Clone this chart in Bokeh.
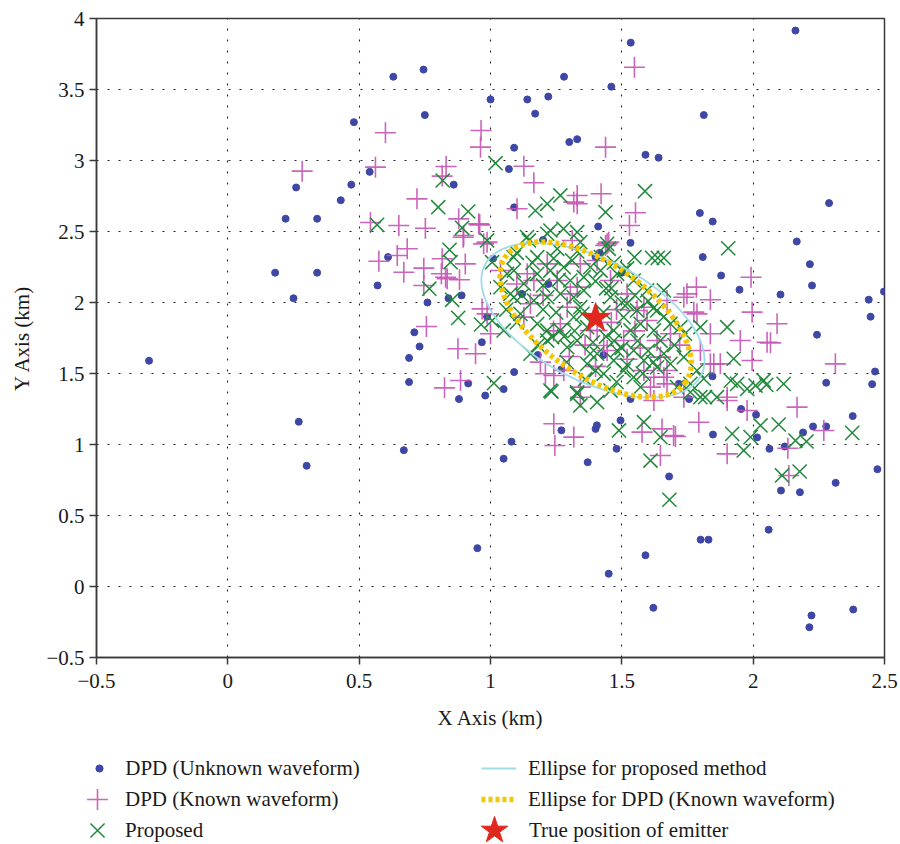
import numpy as np
from bokeh.plotting import figure
from bokeh.models import Range1d, FixedTicker, Legend, LegendItem
from bokeh.embed import file_html
from bokeh.resources import INLINE

# ---------------- data ----------------
unknown_x = [-0.30, 0.18, 0.22, 0.25, 0.26, 0.27, 0.30, 0.34, 0.34, 0.43, 0.47, 0.48, 0.54, 0.57,
             0.61, 0.63, 0.67, 0.69, 0.69, 0.71, 0.73, 0.745, 0.75, 0.76, 0.84, 0.86, 0.88, 0.89,
             0.915, 0.95, 0.967, 0.98, 0.987, 1.00, 1.01, 1.05, 1.05, 1.07, 1.08, 1.09, 1.09, 1.09,
             1.12, 1.14, 1.17, 1.18, 1.20, 1.22, 1.22, 1.27, 1.27, 1.28, 1.30, 1.33, 1.37, 1.40,
             1.405, 1.41, 1.40, 1.416, 1.43, 1.45, 1.46, 1.48, 1.495, 1.50, 1.533, 1.533, 1.534,
             1.59, 1.59, 1.62, 1.64, 1.68, 1.717, 1.756, 1.797, 1.80, 1.808, 1.812, 1.83, 1.845,
             1.846, 1.847, 1.878, 1.948, 1.954, 2.011, 2.015, 2.059, 2.062, 2.104, 2.106, 2.12,
             2.161, 2.166, 2.178, 2.19, 2.214, 2.216, 2.222, 2.224, 2.228, 2.243, 2.278, 2.278,
             2.289, 2.314, 2.379, 2.381, 2.44, 2.447, 2.453, 2.464, 2.473, 2.498]
unknown_y = [1.59, 2.21, 2.59, 2.03, 2.81, 1.16, 0.85, 2.59, 2.21, 2.72, 2.83, 3.27, 2.92, 2.12,
             2.32, 3.59, 0.96, 1.61, 1.44, 1.79, 1.69, 3.64, 3.32, 2.00, 2.03, 2.83, 1.32, 2.05,
             1.43, 0.27, 1.72, 1.345, 1.90, 3.43, 2.31, 1.39, 0.90, 2.94, 1.02, 2.67, 1.51, 3.09,
             2.06, 3.43, 3.33, 1.63, 2.44, 3.45, 2.13, 1.10, 1.53, 3.59, 3.13, 3.15, 0.875, 1.11,
             1.135, 2.535, 2.32, 2.35, 1.63, 0.09, 3.52, 0.97, 1.17, 2.21, 2.42, 1.32, 3.83,
             3.04, 0.22, -0.15, 3.02, 0.775, 1.427, 1.32, 2.63, 0.33, 2.32, 3.32, 0.33, 1.48,
             2.57, 1.07, 2.19, 2.09, 1.25, 1.21, 1.05, 0.40, 0.97, 2.056, 0.676, 0.986,
             3.915, 2.43, 0.664, 1.085, -0.287, 2.27, -0.204, 2.12, 1.127, 1.773, 1.127, 1.435,
             2.70, 0.73, 1.20, -0.162, 2.02, 1.90, 1.425, 1.514, 0.826, 2.077]

known_x = [0.283, 0.562, 0.600, 0.543, 0.651, 0.752, 0.720, 0.831, 0.816, 0.964, 0.962, 0.879,
           0.959, 0.896, 0.683, 0.645, 0.575, 0.746, 0.670, 0.813, 0.904, 0.882, 0.829, 0.816,
           0.746, 0.968, 0.756, 0.974, 0.876, 0.943, 0.886, 0.825, 1.241, 1.245, 1.317, 1.000,
           1.190, 1.241, 1.793, 1.901, 1.647, 1.697, 1.577, 1.951, 1.996, 1.901, 1.837, 2.053,
           2.091, 2.066, 2.313, 2.167, 2.269, 2.132, 2.136, 1.548, 1.438, 1.127, 1.165, 1.330,
           1.421, 1.101, 1.552, 1.529, 1.992, 1.784, 1.736, 1.837, 1.996, 1.774, 1.311, 1.438,
           1.317, 0.898, 0.987, 0.955, 0.835, 1.140, 1.165, 1.216, 1.254, 1.304, 1.292, 1.330,
           1.152, 0.987, 1.279, 1.342, 1.380, 1.266, 1.127, 1.038, 1.342, 1.444, 1.406, 1.457,
           1.520, 1.584, 1.672, 1.748, 1.786, 1.596, 1.634, 1.685, 1.507, 1.444, 1.647, 1.584,
           1.672, 1.672, 1.736, 1.799, 1.406, 1.622, 1.450, 1.558, 1.837, 1.850, 1.660, 1.609,
           1.431, 1.342, 1.622, 1.653, 1.704, 1.977, 1.875, 1.901, 1.209, 1.330, 1.20, 1.10,
           1.48, 1.55, 1.36, 1.30, 1.52, 1.24, 1.46, 1.57, 1.40, 1.72]
known_y = [2.925, 2.953, 3.195, 2.563, 2.542, 2.523, 2.730, 2.958, 2.89, 3.211, 3.094, 2.589,
           2.547, 2.460, 2.378, 2.331, 2.291, 2.242, 2.213, 2.202, 2.272, 2.160, 2.178, 2.308,
           2.120, 1.955, 1.831, 2.413, 1.674, 1.639, 1.451, 1.399, 1.146, 0.993, 1.052, 1.780,
           1.580, 1.486, 1.157, 0.934, 0.923, 1.063, 1.087, 1.732, 1.592, 1.333, 1.568, 1.720,
           1.850, 1.716, 1.568, 1.263, 1.099, 0.974, 0.782, 3.657, 3.094, 2.960, 2.843, 2.754,
           2.766, 2.660, 2.632, 2.542, 2.178, 2.108, 2.037, 2.019, 1.932, 1.932, 2.437, 2.401,
           2.707, 2.472, 2.425, 2.554, 2.167, 2.202, 2.155, 2.272, 2.155, 2.061, 1.967, 2.108,
           1.991, 1.920, 1.521, 1.404, 1.803, 1.850, 1.897, 2.225, 2.272, 2.413, 2.296, 2.155,
           2.061, 1.967, 2.014, 2.061, 1.920, 1.873, 1.732, 1.780, 1.732, 1.662, 1.615, 1.521,
           1.521, 1.427, 1.333, 1.662, 1.803, 1.474, 2.425, 1.944, 1.780, 1.568, 1.474, 1.404,
           1.697, 1.333, 1.310, 1.110, 1.056, 1.239, 1.568, 1.310, 1.498, 2.695, 2.05, 2.13,
           1.95, 1.80, 1.70, 1.62, 1.60, 1.80, 1.86, 1.68, 1.55, 1.70]

proposed_x = [0.818, 0.801, 0.568, 0.915, 0.892, 0.844, 0.848, 0.767, 0.854, 0.877, 0.964, 0.987,
              1.006, 1.019, 1.171, 1.266, 1.216, 1.228, 1.278, 1.139, 1.088, 1.588, 1.438, 1.905,
              1.548, 1.615, 1.637, 1.660, 1.444, 1.450, 1.660, 1.799, 1.901, 1.926, 1.812, 1.862,
              1.939, 1.977, 2.009, 2.040, 2.028, 1.920, 1.990, 1.964, 1.609, 1.584, 1.489, 1.647,
              1.406, 1.342, 1.330, 1.761, 1.817, 1.013, 1.232, 1.681, 2.097, 2.161, 2.203, 2.110,
              2.177, 2.377, 2.116, 2.05, 1.915, 1.799, 1.507, 1.146, 1.216, 1.330, 1.178, 1.254,
              1.311, 1.089, 1.127, 1.076, 1.342, 1.063, 1.178, 1.228, 1.279, 1.304, 1.355, 1.380,
              1.038, 1.089, 1.165, 1.216, 1.266, 1.317, 1.355, 1.006, 1.050, 1.114, 1.178, 1.216,
              1.235, 1.266, 1.317, 1.342, 1.368, 1.152, 1.216, 1.292, 1.330, 1.380, 1.228, 1.330,
              1.368, 1.419, 1.482, 1.545, 1.596, 1.457, 1.520, 1.558, 1.507, 1.571, 1.469, 1.533,
              1.622, 1.685, 1.723, 1.647, 1.482, 1.545, 1.584, 1.469, 1.507, 1.431, 1.545, 1.634,
              1.685, 1.736, 1.786, 1.761, 1.710, 1.571, 1.457, 1.406, 1.634, 1.60, 1.43, 1.47,
              1.39, 1.25, 1.29, 1.44, 1.20,
              1.10, 1.16, 1.24, 1.33, 1.42, 1.47, 1.52, 1.12, 1.20, 1.26, 1.40, 1.46, 1.50, 1.55,
              1.62, 1.66, 1.35, 1.28, 1.32, 1.44, 1.50, 1.56, 1.60, 1.62, 1.52, 1.40, 1.36, 1.48,
              1.58, 1.66, 1.70, 1.74, 1.18, 1.10, 1.06]
proposed_y = [2.859, 2.671, 2.547, 2.641, 2.526, 2.371, 2.284, 2.097, 2.019, 1.892, 1.845, 2.437,
              2.284, 2.981, 2.648, 2.754, 2.695, 2.507, 2.519, 2.461, 2.319, 2.784, 2.636, 2.382,
              2.319, 2.314, 2.314, 2.314, 2.413, 2.378, 2.085, 1.826, 1.826, 1.604, 1.463, 1.333,
              1.427, 1.392, 1.415, 1.451, 1.134, 1.075, 1.052, 0.958, 0.887, 1.157, 1.099, 1.052,
              1.298, 1.275, 1.368, 1.368, 1.333, 1.432, 1.373, 0.611, 1.141, 1.028, 1.021, 0.782,
              0.810, 1.082, 1.427, 1.42, 1.45, 1.333, 2.225, 2.437, 2.484, 2.495, 2.319, 2.378,
              2.296, 2.225, 2.132, 2.061, 2.425, 2.202, 2.202, 2.225, 2.249, 2.155, 2.178, 2.249,
              2.108, 2.037, 2.014, 2.037, 2.061, 2.037, 2.085, 1.873, 1.803, 1.920, 1.850, 1.803,
              1.756, 1.803, 1.897, 1.967, 1.826, 1.639, 1.732, 1.685, 1.732, 1.639, 1.380, 1.357,
              1.568, 2.225, 2.202, 2.155, 2.085, 2.037, 1.991, 1.944, 1.897, 1.850, 1.803, 1.803,
              1.803, 1.850, 1.826, 1.732, 1.662, 1.662, 1.592, 1.592, 1.521, 1.498, 1.474, 1.544,
              1.568, 1.615, 1.521, 1.427, 1.404, 1.404, 1.380, 1.639, 1.944, 2.01, 1.93, 1.73,
              1.72, 1.93, 1.58, 2.10, 1.95,
              2.35, 2.28, 2.31, 2.36, 2.32, 2.28, 2.24, 2.05, 2.12, 2.16, 2.15, 2.10, 2.00, 2.05,
              1.96, 1.90, 1.92, 1.76, 1.80, 1.76, 1.68, 1.73, 1.66, 1.58, 1.56, 1.52, 1.46, 1.44,
              1.50, 1.64, 1.70, 1.78, 1.70, 1.86, 1.95]

true_x = [1.40]
true_y = [1.89]

# ellipse parameters: centre and two conjugate semi-diameters (data units)
proposed_ellipse = {"center": (1.39, 1.875), "u": (0.38, -0.46), "v": (0.19, 0.29)}
dpd_ellipse = {"center": (1.40, 1.88), "u": (0.34, -0.45), "v": (0.13, 0.31)}

x_ticks = [-0.5, 0, 0.5, 1, 1.5, 2, 2.5]
x_tick_labels = ["\u22120.5", "0", "0.5", "1", "1.5", "2", "2.5"]
y_ticks = [-0.5, 0, 0.5, 1, 1.5, 2, 2.5, 3, 3.5, 4]
y_tick_labels = ["\u22120.5", "0", "0.5", "1", "1.5", "2", "2.5", "3", "3.5", "4"]

labels = ["DPD (Unknown waveform)", "DPD (Known waveform)", "Proposed",
          "Ellipse for proposed method", "Ellipse for DPD (Known waveform)",
          "True position of emitter"]

# ---------------- styles ----------------
FONT = "Liberation Serif"
FS = "21px"
BLUE = "#3f47a6"
MAGENTA = "#c653b5"
GREEN = "#1f8a3a"
CYAN = "#9fdbe9"
YELLOW = "#f7c600"
RED = "#e0281e"

MAIN_H = 735
FRAME_LEFT = 96

# ---------------- main figure ----------------
p = figure(width=900, height=MAIN_H, output_backend="svg", toolbar_location=None,
           x_range=Range1d(-0.5, 2.5), y_range=Range1d(-0.5, 4),
           min_border_left=FRAME_LEFT, min_border_right=16, min_border_top=18,
           min_border_bottom=MAIN_H - 657)
p.background_fill_color = "white"
p.border_fill_color = "white"
p.outline_line_color = "#3a3a3a"
p.outline_line_width = 1.5

for ax, ticks, labs in ((p.xaxis[0], x_ticks, x_tick_labels), (p.yaxis[0], y_ticks, y_tick_labels)):
    ax.ticker = FixedTicker(ticks=ticks)
    ax.major_label_overrides = {t: l for t, l in zip(ticks, labs)}
    ax.minor_tick_line_color = None
    ax.major_tick_out = 7
    ax.major_tick_in = 0
    ax.axis_line_color = "#3a3a3a"
    ax.axis_line_width = 1.5
    ax.major_tick_line_color = "#3a3a3a"
    ax.major_tick_line_width = 1.5
    ax.major_label_text_font = FONT
    ax.major_label_text_font_size = FS
    ax.major_label_text_color = "#1a1a1a"
    ax.axis_label_text_font = FONT
    ax.axis_label_text_font_size = FS
    ax.axis_label_text_font_style = "normal"
    ax.axis_label_text_color = "#1a1a1a"

p.xaxis.axis_label = "X Axis (km)"
p.yaxis.axis_label = "Y Axis (km)"
p.xaxis.major_label_standoff = 9
p.xaxis.axis_label_standoff = 15
p.yaxis.major_label_standoff = 5
p.yaxis.axis_label_standoff = 9

for g in (p.xgrid[0], p.ygrid[0]):
    g.grid_line_color = "#222222"
    g.grid_line_dash = "2 9"
    g.grid_line_width = 1.1

style_unknown = dict(marker="circle", size=7, fill_color=BLUE, line_color=BLUE)
style_known = dict(marker="cross", size=21, line_color=MAGENTA, line_width=1.6, line_alpha=0.9)
style_prop = dict(marker="x", size=20, line_color=GREEN, line_width=1.5)
style_ell1 = dict(line_color=CYAN, line_width=1.8)
style_ell2 = dict(line_color=YELLOW, line_width=5.5, line_dash="4 3")
style_star = dict(marker="star", size=31, fill_color=RED, line_color=RED)

p.scatter(unknown_x, unknown_y, **style_unknown)
p.scatter(known_x, known_y, **style_known)
p.scatter(proposed_x, proposed_y, **style_prop)

t = np.linspace(0, 2 * np.pi, 241)


def ellipse_xy(e):
    cx, cy = e["center"]
    ux, uy = e["u"]
    vx, vy = e["v"]
    return cx + ux * np.cos(t) + vx * np.sin(t), cy + uy * np.cos(t) + vy * np.sin(t)


ex1, ey1 = ellipse_xy(proposed_ellipse)
ex2, ey2 = ellipse_xy(dpd_ellipse)
p.line(ex1, ey1, **style_ell1)
p.line(ex2, ey2, **style_ell2)
p.scatter(true_x, true_y, **style_star)

# ---------------- legend strip below the plot (separate root, frame = whole strip) ----------------
LEG_H = 844 - MAIN_H
lf = figure(width=900, height=LEG_H, output_backend="svg", toolbar_location=None,
            x_range=Range1d(-0.5, 2.5), y_range=Range1d(-0.5, 4),
            x_axis_type=None, y_axis_type=None, min_border=0)
lf.outline_line_color = None
lf.grid.visible = False
lf.background_fill_color = "white"
lf.border_fill_color = "white"

# hidden copies of the series, only used to draw the legend glyphs
g_unknown = lf.scatter(unknown_x, unknown_y, visible=False, **style_unknown)
g_known = lf.scatter(known_x, known_y, visible=False, **style_known)
g_prop = lf.scatter(proposed_x, proposed_y, visible=False, **style_prop)
g_ell1 = lf.line(ex1, ey1, visible=False, **style_ell1)
g_ell2 = lf.line(ex2, ey2, visible=False, **style_ell2)
g_star = lf.scatter(true_x, true_y, visible=False, **style_star)

# (renderer, glyph centre x, row centre y (page px), glyph width, glyph height, label x)
legend_specs = [
    (g_unknown, 99, 768, 17.5, 30, 125),
    (g_known, 97, 799, 52, 52, 125),
    (g_prop, 97, 830, 50, 50, 125),
    (g_ell1, 498.5, 768, 35, 30, 528),
    (g_ell2, 498.5, 799, 35, 30, 528),
    (g_star, 494, 830, 70, 70, 529),
]
for (rend, gx, gy, W, H, lx), lab in zip(legend_specs, labels):
    left = gx - W / 2
    bottom = (gy - MAIN_H) + H / 2
    lg = Legend(items=[LegendItem(label=lab, renderers=[rend])],
                location=(left, LEG_H - bottom),
                glyph_width=int(round(W)), glyph_height=int(round(H)),
                label_standoff=max(0, int(round(lx - (left + W)))),
                label_height=int(round(H)),
                padding=0, margin=0, spacing=0,
                border_line_color=None, background_fill_alpha=0,
                inactive_fill_alpha=0,
                label_text_font=FONT, label_text_font_size=FS,
                label_text_color="#1a1a1a")
    lf.add_layout(lg)

open("out.html", "w").write(file_html([p, lf], INLINE))
